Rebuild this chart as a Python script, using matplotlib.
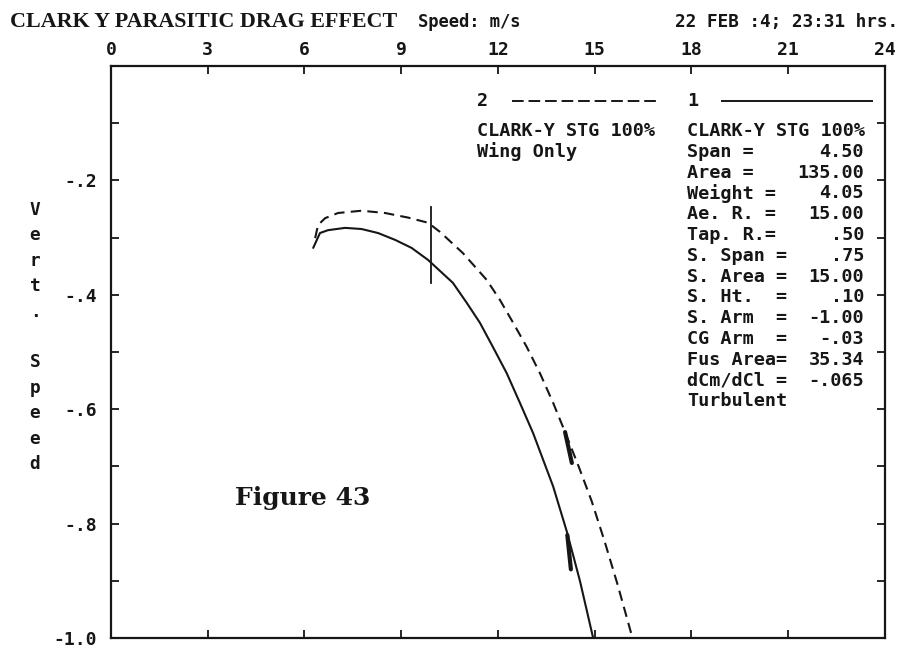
import matplotlib
matplotlib.use("Agg")
import matplotlib.pyplot as plt

# run 1: full model, run 2: wing only (speed m/s vs vertical speed)
solid_x = [6.27, 6.48, 6.73, 7.26, 7.77, 8.28, 8.81, 9.32, 9.83, 10.60, 11.03,
           11.44, 11.84, 12.27, 12.68, 13.09, 13.71, 14.14, 14.54, 14.95]
solid_y = [-0.318, -0.292, -0.287, -0.283, -0.285, -0.292, -0.304, -0.318, -0.339, -0.379, -0.414,
           -0.449, -0.491, -0.537, -0.589, -0.642, -0.735, -0.815, -0.900, -1.0]

dashed_x = [6.33, 6.42, 6.64, 7.04, 7.77, 8.50, 9.21, 9.83, 10.20, 10.91, 11.65,
            12.06, 12.47, 12.89, 13.30, 13.71, 14.08, 14.50, 14.90, 15.30, 15.70, 16.17]
dashed_y = [-0.301, -0.278, -0.266, -0.257, -0.253, -0.257, -0.265, -0.274, -0.290, -0.327, -0.374,
            -0.409, -0.449, -0.491, -0.537, -0.589, -0.640, -0.700, -0.760, -0.830, -0.905, -1.0]

# short hash marks drawn over the curves
cursor_x = [9.92, 9.92]
cursor_y = [-0.247, -0.380]
hash_dashed_x = [14.08, 14.29]
hash_dashed_y = [-0.640, -0.694]
hash_solid_x = [14.15, 14.26]
hash_solid_y = [-0.820, -0.880]

x_ticks = [0, 3, 6, 9, 12, 15, 18, 21, 24]
x_tick_labels = ["0", "3", "6", "9", "12", "15", "18", "21", "24"]
y_major = [-1.0, -0.8, -0.6, -0.4, -0.2]
y_major_labels = ["-1.0", "-.8", "-.6", "-.4", "-.2"]
y_minor = [-0.9, -0.7, -0.5, -0.3, -0.1]

run2_lines = ["CLARK-Y STG 100%", "Wing Only"]
run1_title = "CLARK-Y STG 100%"
param_names = ["Span =", "Area =", "Weight =", "Ae. R. =", "Tap. R.=", "S. Span =",
               "S. Area =", "S. Ht.  =", "S. Arm  =", "CG Arm  =", "Fus Area=",
               "dCm/dCl =", "Turbulent"]
param_values = ["4.50", "135.00", "4.05", "15.00", ".50", ".75",
                "15.00", ".10", "-1.00", "-.03", "35.34", "-.065", ""]

ink = "#161616"
mono = {"family": "DejaVu Sans Mono", "weight": "bold", "color": ink}
block_size = 13.3

W, H = 907, 649
fig = plt.figure(figsize=(W / 100, H / 100), dpi=100, facecolor="white")
ax = fig.add_axes([111 / W, 1 - 638 / H, 774 / W, 572 / H])


def px(x, y):
    # figure fraction from pixel position
    return x / W, 1 - y / H


ax.plot(solid_x, solid_y, color=ink, lw=1.5, solid_capstyle="round")
ax.plot(dashed_x, dashed_y, color=ink, lw=1.5, linestyle=(0, (5, 3)))
ax.plot(cursor_x, cursor_y, color=ink, lw=1.3)
ax.plot(hash_dashed_x, hash_dashed_y, color=ink, lw=3.0, solid_capstyle="round")
ax.plot(hash_solid_x, hash_solid_y, color=ink, lw=3.0, solid_capstyle="round")

ax.set_xlim(0, 24)
ax.set_ylim(-1.0, 0)

ax.set_xticks(x_ticks)
ax.set_xticklabels(x_tick_labels, fontdict=mono, fontsize=13)
ax.set_yticks(y_major)
ax.set_yticklabels(y_major_labels, fontdict=mono, fontsize=13)
ax.set_yticks(y_minor, minor=True)

ax.tick_params(axis="x", which="both", top=True, bottom=True, labeltop=True,
               labelbottom=False, direction="in", length=5.5, width=1.3,
               color=ink, pad=5)
ax.tick_params(axis="y", which="both", left=True, right=True, labelleft=True,
               labelright=False, direction="in", length=5.5, width=1.3,
               color=ink, pad=10)
for spine in ax.spines.values():
    spine.set_color(ink)
    spine.set_linewidth(1.6)

# header row
fig.text(*px(10, 22), "CLARK Y PARASITIC DRAG EFFECT", family="Liberation Serif",
         weight="bold", fontsize=15.8, color=ink, va="center", ha="left")
fig.text(*px(418, 22), "Speed: m/s", fontdict=mono, fontsize=12.3, va="center", ha="left")
fig.text(*px(898, 22), "22 FEB :4; 23:31 hrs.", fontdict=mono, fontsize=12.8,
         va="center", ha="right")

# stacked axis title
fig.text(*px(35, 337), "\n".join("Vert. Speed"), fontdict=mono, fontsize=12.8,
         va="center", ha="center", linespacing=1.53)

fig.text(*px(235, 498), "Figure 43", family="DejaVu Serif", weight="bold",
         fontsize=18, color=ink, va="center", ha="left")

# run legends
row0, step = 101, 20.8
fig.text(*px(477, row0), "2", fontdict=mono, fontsize=block_size, va="center", ha="left")
fig.add_artist(plt.Line2D([512 / W, 660 / W], [1 - row0 / H] * 2, color=ink,
                          lw=1.4, linestyle=(0, (6, 2.5))))
for i, line in enumerate(run2_lines):
    fig.text(*px(477, row0 + 30 + i * step), line, fontdict=mono, fontsize=block_size,
             va="center", ha="left")

fig.text(*px(687, row0), "1", fontdict=mono, fontsize=block_size, va="center", ha="left")
fig.add_artist(plt.Line2D([722 / W, 872 / W], [1 - row0 / H] * 2, color=ink, lw=1.4))
fig.text(*px(687, row0 + 30), run1_title, fontdict=mono, fontsize=block_size,
         va="center", ha="left")
for i, (name, val) in enumerate(zip(param_names, param_values)):
    y = row0 + 30 + (i + 1) * step
    fig.text(*px(687, y), name, fontdict=mono, fontsize=block_size, va="center", ha="left")
    if val:
        fig.text(*px(864, y), val, fontdict=mono, fontsize=block_size, va="center", ha="right")

fig.savefig("out.png", dpi=100, facecolor="white")
